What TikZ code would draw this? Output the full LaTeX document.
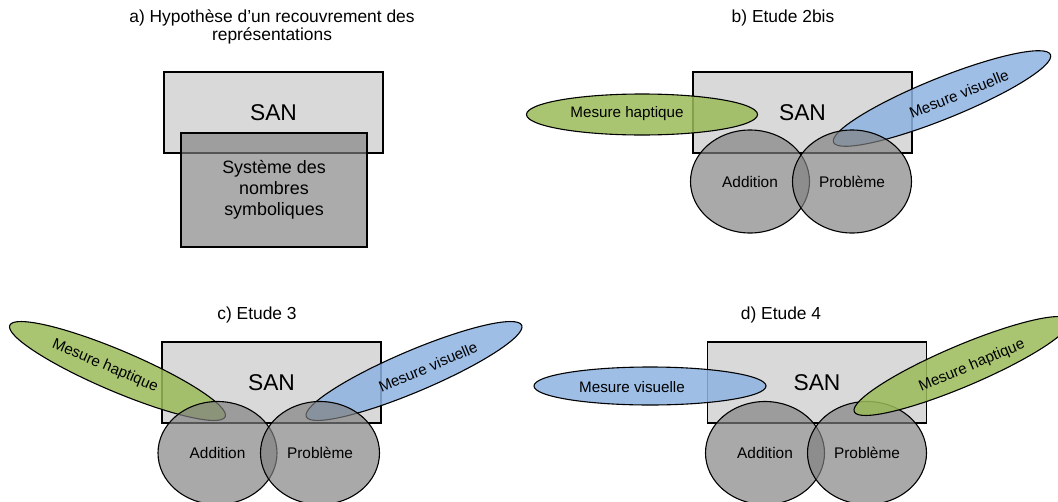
\documentclass[tikz,border=0pt]{standalone}
\usepackage{fontspec}
\setmainfont{Liberation Sans}
\usepackage{tikz}
\usetikzlibrary{shapes.geometric}
\usepackage{xcolor}
\definecolor{sanfill}{HTML}{D9D9D9}
\definecolor{setgray}{gray}{0.5}
\definecolor{hapgreen}{HTML}{9BBB59}
\definecolor{visblue}{HTML}{8DB3E2}

\begin{document}
\begin{tikzpicture}[x=1pt,y=-1pt,line width=1.1pt,
  title/.style={font=\fontsize{17.4}{18}\selectfont,align=center},
  sanbox/.style={draw=black,fill=sanfill,minimum width=219pt,minimum height=81pt,inner sep=0pt,font=\fontsize{22.8}{26}\selectfont},
  numset/.style={ellipse,draw=black,fill=setgray,fill opacity=0.68,text opacity=1,minimum width=119pt,minimum height=103pt,inner sep=0pt,font=\fontsize{15.4}{18}\selectfont},
  mesure/.style={ellipse,draw=black,fill=#1,fill opacity=0.85,minimum width=234pt,minimum height=41pt,inner sep=0pt},
  mlabel/.style={font=\fontsize{15.2}{18}\selectfont}]
\useasboundingbox (0,0) rectangle (1058,501);
% a) hypothese
\node[title] (titleA) at (272,27) {a) Hypothèse d’un recouvrement des\\représentations};
\node[sanbox] (sanA) at (273.5,112.5) {SAN};
\node[draw=black,fill=setgray,fill opacity=0.66,text opacity=1,minimum width=186pt,minimum height=114pt,align=center,font=\fontsize{17.9}{21}\selectfont] (symbA) at (274,190) {\raisebox{-3pt}{\parbox{120pt}{\centering Système des\\nombres\\symboliques}}};
% b) etude 2bis
\node[title] (titleB) at (783,18) {b) Etude 2bis};
\node[sanbox] (sanB) at (802.5,112.5) {SAN};
\node[mesure=hapgreen,minimum width=231pt] (hapB) at (642,114.5) {};
\node[mlabel] (hapBtext) at (627,114) {Mesure haptique};
\node[mesure=visblue,rotate=22] (visB) at (942,98.5) {};
\node[mlabel,rotate=22] (visBtext) at (959,94) {Mesure visuelle};
\node[numset] (addB) at (750,181.5) {Addition};
\node[numset] (probB) at (852,181.5) {Problème};
% c) etude 3
\node[title] (titleC) at (257,315) {c) Etude 3};
\node[sanbox] (sanC) at (271.5,382.5) {SAN};
\node[mesure=hapgreen,rotate=-23] (hapC) at (117.5,371) {};
\node[mlabel,rotate=-23] (hapCtext) at (105,366) {Mesure haptique};
\node[mesure=visblue,rotate=23] (visC) at (414,371) {};
\node[mlabel,rotate=23] (visCtext) at (428,367) {Mesure visuelle};
\node[numset] (addC) at (217.5,453) {Addition};
\node[numset] (probC) at (320,453) {Problème};
% d) etude 4
\node[title] (titleD) at (781,315) {d) Etude 4};
\node[sanbox] (sanD) at (817,382.5) {SAN};
\node[mesure=visblue,minimum width=232pt,minimum height=38pt] (visD) at (650,386) {};
\node[mlabel] (visDtext) at (632,387) {Mesure visuelle};
\node[numset] (addD) at (765,453) {Addition};
\node[numset] (probD) at (867,453) {Problème};
\node[mesure=hapgreen,rotate=23] (hapD) at (962,366) {};
\node[mlabel,rotate=23] (hapDtext) at (972,366) {Mesure haptique};
\end{tikzpicture}
\end{document}
